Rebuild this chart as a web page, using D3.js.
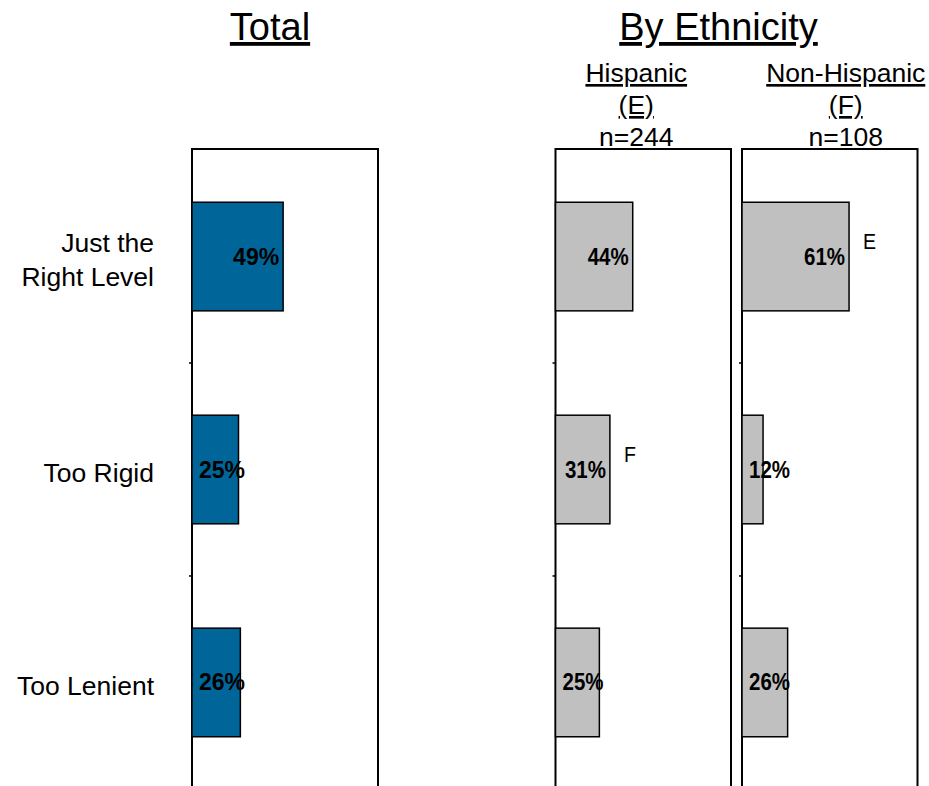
<!DOCTYPE html>
<html>
<head>
<meta charset="utf-8">
<script src="https://cdn.jsdelivr.net/npm/d3@7/dist/d3.min.js"></script>
<style>
  html, body { margin: 0; padding: 0; background: #fff; }
  svg { display: block; font-family: Arial, "Liberation Sans", sans-serif; }
</style>
</head>
<body>
<svg id="chart" width="929" height="786"></svg>
<script>
// Response categories (line breaks mark wrapped labels)
const categories = ["Just the\nRight Level", "Too Rigid", "Too Lenient"];

// Percentages per group
const totalValues = [49, 25, 26];
const hispanicValues = [44, 31, 25];
const nonHispanicValues = [61, 12, 26];

// Significance letters shown beside bars
const hispanicSig = ["", "F", ""];
const nonHispanicSig = ["E", "", ""];

// Group headers
const groupTitles = ["Total", "By Ethnicity"];
const hispanicHeader = ["Hispanic", "(E)", "n=244"];
const nonHispanicHeader = ["Non-Hispanic", "(F)", "n=108"];

const svg = d3.select("#chart");

const plotTop = 149, plotBottom = 790;
const y = d3.scaleBand()
  .domain(categories)
  .range([plotTop, plotBottom])
  .paddingInner(0.49)
  .paddingOuter(0.25);

// each panel is its own small chart; the ethnicity charts use slightly narrower lettering
const panels = [
  { values: totalValues, sig: null, range: [192, 378], fill: "#006699", squeeze: 1, header: null },
  { values: hispanicValues, sig: hispanicSig, range: [555.5, 731], fill: "#c0c0c0", squeeze: 0.89,
    header: hispanicHeader, headerShift: -7 },
  { values: nonHispanicValues, sig: nonHispanicSig, range: [742, 917.5], fill: "#c0c0c0", squeeze: 0.89,
    header: nonHispanicHeader, headerShift: 16 }
];

panels.forEach(p => {
  const x = d3.scaleLinear().domain([0, 100]).range(p.range);
  const g = svg.append("g");

  // frame: top edge plus both sides running off the bottom
  g.append("path")
    .attr("d", `M${x(0)},${plotBottom}V${plotTop}H${x(100)}V${plotBottom}`)
    .attr("fill", "none").attr("stroke", "#000").attr("stroke-width", 2);

  // small ticks on the category axis between bands
  const boundaries = categories.slice(1).map(c => y(c) - y.step() * y.paddingInner() / 2);
  g.selectAll("line.tick").data(boundaries).join("line")
    .attr("class", "tick")
    .attr("x1", x(0) - 3).attr("x2", x(0))
    .attr("y1", d => d).attr("y2", d => d)
    .attr("stroke", "#000").attr("stroke-width", 1.5);

  const rows = categories.map((c, i) => ({ c, v: p.values[i], s: p.sig ? p.sig[i] : "" }));

  g.selectAll("rect.bar").data(rows).join("rect")
    .attr("class", "bar")
    .attr("x", x(0))
    .attr("y", d => y(d.c))
    .attr("width", d => x(d.v) - x(0))
    .attr("height", y.bandwidth())
    .attr("fill", p.fill)
    .attr("stroke", "#000").attr("stroke-width", 1.5);

  // value labels: inside the bar end, but never closer than 7px to the axis
  g.selectAll("text.val").data(rows).join("text")
    .attr("class", "val")
    .attr("font-size", 23).attr("font-weight", "bold")
    .text(d => d.v + "%")
    .each(function (d) {
      const w = this.getComputedTextLength() * p.squeeze;
      const start = Math.max(x(d.v) - 4 - w, x(0) + 7);
      const base = y(d.c) + y.bandwidth() / 2 + 8;
      d3.select(this).attr("transform", `translate(${start},${base}) scale(${p.squeeze},1)`);
    });

  g.selectAll("text.sig").data(rows.filter(d => d.s)).join("text")
    .attr("class", "sig")
    .attr("font-size", 22)
    .attr("transform", d =>
      `translate(${x(d.v) + 14},${y(d.c) + y.bandwidth() / 2 - 8}) scale(${p.squeeze},1)`)
    .text(d => d.s);

  // subgroup header above the frame
  if (p.header) {
    const cx = (p.range[0] + p.range[1]) / 2 + p.headerShift;
    g.selectAll("text.head").data(p.header).join("text")
      .attr("class", "head")
      .attr("font-size", 26.5)
      .attr("text-anchor", "middle")
      .attr("text-decoration", (d, i) => i < 2 ? "underline" : null)
      .attr("x", cx)
      .attr("y", (d, i) => 82 + i * 32)
      .text(d => d);
  }
});

// category labels
const labelG = svg.append("g").attr("font-size", 26.5).attr("text-anchor", "end");
categories.forEach(c => {
  const lines = c.split("\n");
  const cy = y(c) + y.bandwidth() / 2 + 12.5;
  const t = labelG.append("text");
  lines.forEach((ln, i) => {
    t.append("tspan")
      .attr("x", 154)
      .attr("y", cy + (i - (lines.length - 1) / 2) * 33.3)
      .text(ln);
  });
});

// group titles
svg.selectAll("text.title").data(groupTitles).join("text")
  .attr("class", "title")
  .attr("font-size", 38)
  .attr("text-anchor", "middle")
  .attr("text-decoration", "underline")
  .attr("x", (d, i) => [270, 718.5][i])
  .attr("y", 40)
  .text(d => d);
</script>
</body>
</html>
